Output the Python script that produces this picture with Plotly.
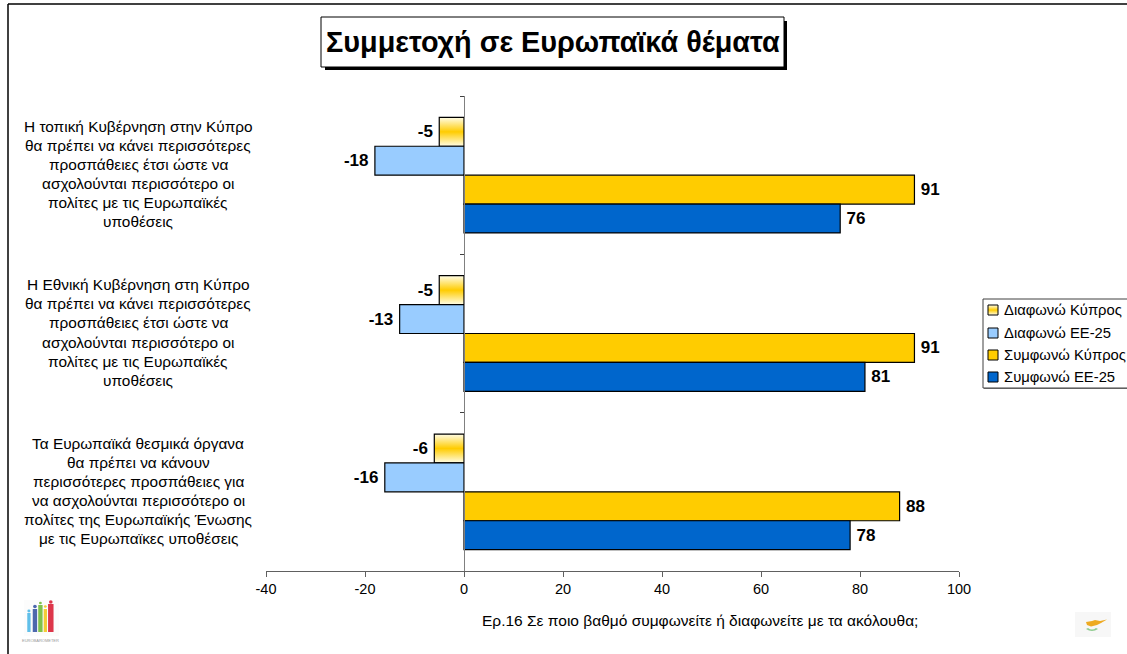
from urllib.parse import quote
import plotly.graph_objects as go

# -------------------------------
# data
# -------------------------------
title = "Συμμετοχή σε Ευρωπαϊκά θέματα"
question = "Ερ.16 Σε ποιο βαθμό συμφωνείτε ή διαφωνείτε με τα ακόλουθα;"
label_lines = [
    ["Η τοπική Κυβέρνηση στην Κύπρο", "θα πρέπει να κάνει περισσότερες", "προσπάθειες έτσι ώστε να",
     "ασχολούνται περισσότερο οι", "πολίτες με τις Ευρωπαϊκές", "υποθέσεις"],
    ["Η Εθνική Κυβέρνηση στη Κύπρο", "θα πρέπει να κάνει περισσότερες", "προσπάθειες έτσι ώστε να",
     "ασχολούνται περισσότερο οι", "πολίτες με τις Ευρωπαϊκές", "υποθέσεις"],
    ["Τα Ευρωπαϊκά θεσμικά όργανα", "θα πρέπει να κάνουν", "περισσότερες προσπάθειες για",
     "να ασχολούνται περισσότερο οι", "πολίτες της Ευρωπαϊκής Ένωσης", "με τις Ευρωπαϊκες υποθέσεις"],
]
categories = [" ".join(lines) for lines in label_lines]
series_names = ["Διαφωνώ Κύπρος", "Διαφωνώ ΕΕ-25", "Συμφωνώ Κύπρος", "Συμφωνώ ΕΕ-25"]
disagree_cy = [-5, -5, -6]
disagree_eu = [-18, -13, -16]
agree_cy = [91, 91, 88]
agree_eu = [76, 81, 78]
x_ticks = [-40, -20, 0, 20, 40, 60, 80, 100]

colors = ["rgba(0,0,0,0)", "#99ccff", "#ffcc00", "#0066cc"]
W, H = 1127, 654
FONT = "Liberation Sans"


def px(x):
    return x / W


def py(y):
    return 1 - y / H


def svg_src(svg):
    return "data:image/svg+xml," + quote(svg)


# orange fade, plotly bars have no gradient fill so it sits under a see-through bar
gradient = svg_src(
    '<svg xmlns="http://www.w3.org/2000/svg" width="20" height="40" preserveAspectRatio="none">'
    '<defs><linearGradient id="g" x1="0" y1="0" x2="0" y2="1">'
    '<stop offset="0" stop-color="#fffde8"/><stop offset="0.5" stop-color="#ffcc00"/>'
    '<stop offset="1" stop-color="#fffde8"/></linearGradient></defs>'
    '<rect width="20" height="40" fill="url(#g)"/></svg>'
)
logo = svg_src(
    '<svg xmlns="http://www.w3.org/2000/svg" width="32" height="36">'
    '<rect width="32" height="36" fill="#fcfcfc"/>'
    '<g opacity="0.85">'
    '<rect x="3" y="13" width="3" height="19" fill="#45b5e6"/><circle cx="4.5" cy="11" r="1.4" fill="#45b5e6"/>'
    '<rect x="8" y="9" width="4" height="23" fill="#2f4fa0"/><circle cx="10" cy="6.5" r="1.7" fill="#2f4fa0"/>'
    '<rect x="13" y="5" width="4" height="27" fill="#6ab82e"/><circle cx="15" cy="3" r="1.3" fill="#6ab82e"/>'
    '<rect x="18" y="9" width="3" height="23" fill="#f2c414"/><circle cx="19.5" cy="6.5" r="1.3" fill="#f2c414"/>'
    '<rect x="22" y="4" width="5" height="28" fill="#d8142c"/><circle cx="24.5" cy="2" r="1.7" fill="#d8142c"/>'
    '</g></svg>'
)
flag = svg_src(
    '<svg xmlns="http://www.w3.org/2000/svg" width="36" height="25">'
    '<rect width="36" height="25" fill="#f7f7f7"/>'
    '<path d="M11 10 L17 9 L20 8 L25 9 L32 7.5 L26 11 L22 13 L16 14.5 L12 13 Z" fill="#eeaa22"/>'
    '<path d="M11 17 Q17 21 23 17 L21 16 Q17 19 13 16 Z" fill="#8fcb8f"/></svg>'
)

# -------------------------------
# bars
# -------------------------------
BARGAP = 0.27
fig = go.Figure()
for name, values, color in zip(series_names, [disagree_cy, disagree_eu, agree_cy, agree_eu], colors):
    # thin space pushes the label a little further off the bar end
    labels = [f"{v}\u2009" if v < 0 else f"\u2009{v}" for v in values]
    fig.add_trace(go.Bar(
        x=values, y=categories, orientation="h", name=name,
        marker=dict(color=color, line=dict(color="#000000", width=1.2)),
        text=labels, textposition="outside", cliponaxis=False,
        textfont=dict(family=FONT, size=17, color="#000000"),
        texttemplate="<b>%{text}</b>", showlegend=False,
    ))

plot_l, plot_r, plot_t, plot_b = 266, 959, 96, 571
images = []
# gradient under the first series, placed from its values
bar_h = (1 - BARGAP) / 4
for i, v in enumerate(disagree_cy):
    images.append(dict(source=gradient, xref="x", yref="y", x=v, y=i - (1 - BARGAP) / 2,
                       sizex=-v, sizey=bar_h, sizing="stretch", xanchor="left", yanchor="top", layer="below"))
images.append(dict(source=logo, xref="paper", yref="paper", x=px(24), y=py(600), sizex=35 / W, sizey=36 / H,
                   sizing="stretch", xanchor="left", yanchor="top", layer="below"))
images.append(dict(source=flag, xref="paper", yref="paper", x=px(1075), y=py(612), sizex=36 / W, sizey=25 / H,
                   sizing="stretch", xanchor="left", yanchor="top", layer="below"))


def paper_rect(x0, y0, x1, y1, **kw):
    return dict(type="rect", xref="paper", yref="paper", x0=px(x0), x1=px(x1), y0=py(y0), y1=py(y1), **kw)


shapes = [
    # outer frame, runs off the page on the right and the bottom
    dict(type="line", xref="paper", yref="paper", x0=px(8), x1=1, y0=py(4), y1=py(4), line=dict(color="#000000", width=1.5)),
    dict(type="line", xref="paper", yref="paper", x0=px(8), x1=px(8), y0=py(4), y1=0, line=dict(color="#000000", width=1.5)),
    # title box and shadow
    paper_rect(325, 21, 787, 70, fillcolor="#000000", line=dict(width=0)),
    paper_rect(321, 17, 784, 67, fillcolor="#ffffff", line=dict(color="#000000", width=1)),
    # legend box, below so the gradient swatch image can sit on it
    paper_rect(984, 300, 1140, 389, fillcolor="#808080", line=dict(width=0), layer="below"),
    paper_rect(983, 299, 1140, 388, fillcolor="#ffffff", line=dict(color="#404040", width=1), layer="below"),
]

annotations = [
    dict(text=f"<b>{title}</b>", xref="paper", yref="paper", x=px(552.5), y=py(42), showarrow=False,
         xanchor="center", yanchor="middle", font=dict(family=FONT, size=28.8, color="#000000")),
    dict(text=question, xref="paper", yref="paper", x=px(699.5), y=py(620), showarrow=False,
         xanchor="center", yanchor="middle", font=dict(family=FONT, size=15.5, color="#000000")),
    dict(text="EUROBAROMETER", xref="paper", yref="paper", x=px(40), y=py(640), showarrow=False,
         xanchor="center", yanchor="middle", font=dict(family=FONT, size=4, color="#999999")),
]

# category labels, one annotation per line to get the wide leading of the original
LINE_H = 19.1
for i, lines in enumerate(label_lines):
    for j, line in enumerate(lines):
        annotations.append(dict(text=line, xref="paper", yref="y", x=px(138), y=i, showarrow=False,
                                xanchor="center", yanchor="middle",
                                yshift=-(j - (len(lines) - 1) / 2) * LINE_H + 1,
                                font=dict(family=FONT, size=15.4, color="#000000")))

# legend drawn by hand: it runs off the page edge and its swatches sit tight against the text
legend_rows = [310, 333, 355, 377]
for name, color, row in zip(series_names, colors, legend_rows):
    if color == "rgba(0,0,0,0)":
        images.append(dict(source=gradient, xref="paper", yref="paper", x=px(988), y=py(row - 5), sizex=10 / W,
                           sizey=10 / H, sizing="stretch", xanchor="left", yanchor="top", layer="above"))
    shapes.append(paper_rect(988, row - 5, 998, row + 5, fillcolor=color, line=dict(color="#000000", width=1), layer="above"))
    annotations.append(dict(text=name, xref="paper", yref="paper", x=px(1002), y=py(row), xanchor="left",
                            yanchor="middle", showarrow=False, font=dict(family=FONT, size=14.8, color="#000000")))

# -------------------------------
# layout
# -------------------------------
dom_l, dom_r = px(plot_l), px(plot_r)
fig.update_layout(
    width=W, height=H, margin=dict(l=0, r=0, t=0, b=0, autoexpand=False),
    paper_bgcolor="#ffffff", plot_bgcolor="#ffffff",
    barmode="group", bargap=BARGAP, bargroupgap=0,
    xaxis=dict(domain=[dom_l, dom_r], range=[-40, 100], tickvals=x_ticks, ticktext=[str(t) for t in x_ticks],
               ticks="outside", ticklen=5, showgrid=False, zeroline=False, showline=True,
               linecolor="#606060", tickcolor="#606060",
               tickfont=dict(family=FONT, size=14.5, color="#000000")),
    yaxis=dict(domain=[py(plot_b), py(plot_t)], autorange="reversed", anchor="free",
               position=dom_l + 40 / 140 * (dom_r - dom_l), type="category",
               tickson="boundaries", ticks="outside", ticklen=4, tickcolor="#404040",
               showticklabels=False, showgrid=False, zeroline=False, showline=True, linecolor="#808080"),
    images=images, shapes=shapes, annotations=annotations,
)

# the page default body margin would push everything 8px in
fig.write_html("out.html", config=dict(displayModeBar=False), post_script="document.body.style.margin='0';")
